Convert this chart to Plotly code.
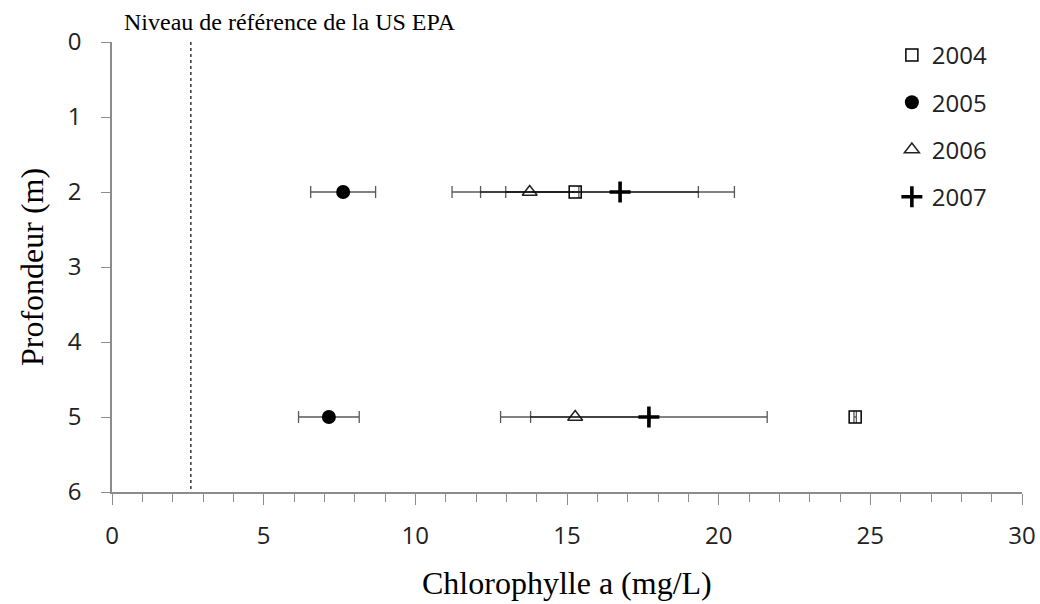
import plotly.graph_objects as go

# Depths (m) and chlorophyll-a means / standard deviations per year
depths = [2, 5]
years = ["2004", "2005", "2006", "2007"]
chl_2004 = [15.27, 24.50]
err_2004 = [4.06, 0.04]
chl_2005 = [7.62, 7.15]
err_2005 = [1.07, 1.0]
chl_2006 = [13.77, 15.27]
err_2006 = [1.62, 2.46]
chl_2007 = [16.75, 17.70]
err_2007 = [3.77, 3.90]

epa_level = 2.6
x_ticks = [0, 5, 10, 15, 20, 25, 30]
y_ticks = [0, 1, 2, 3, 4, 5, 6]

series = [
    ("2004", chl_2004, err_2004, dict(symbol="square-open", size=12, color="black", line=dict(width=1.5, color="black"))),
    ("2005", chl_2005, err_2005, dict(symbol="circle", size=14, color="black")),
    ("2006", chl_2006, err_2006, dict(symbol="triangle-up-open", size=13, color="#222", line=dict(width=1.5, color="#222"))),
    ("2007", chl_2007, err_2007, dict(symbol="cross-thin", size=15, color="black", line=dict(width=3.6, color="black"))),
]

fig = go.Figure()
for name, vals, errs, mk in series:
    fig.add_trace(go.Scatter(
        x=vals, y=depths, mode="markers", name=name, legendgroup=name,
        marker=mk,
        error_x=dict(type="data", array=errs, visible=True,
                     color="rgba(0,0,0,0.65)", thickness=1.3, width=6),
    ))

# US EPA reference level
fig.add_shape(type="line", xref="x", yref="y", x0=epa_level, x1=epa_level,
              y0=0, y1=6, line=dict(color="black", width=1.2, dash="dot"))
fig.add_annotation(text="Niveau de référence de la US EPA", xref="paper", yref="paper",
                   x=0.011, y=1.0, xanchor="left", yanchor="middle", yshift=20,
                   showarrow=False, font=dict(family="Liberation Serif", size=24, color="black"))

sans = "Open Sans"
fig.update_xaxes(range=[0, 30], tickvals=x_ticks, showgrid=False, zeroline=False,
                 showline=True, linecolor="#8c8c8c", linewidth=1.5,
                 ticks="outside", ticklen=11, tickcolor="#8c8c8c", tickwidth=1,
                 minor=dict(dtick=1, ticks="outside", ticklen=8, tickcolor="#8c8c8c", tickwidth=1),
                 ticklabelstandoff=10,
                 tickfont=dict(family=sans, size=24, color="#222"))
fig.update_yaxes(range=[6, 0], tickvals=y_ticks, showgrid=False, zeroline=False,
                 showline=True, linecolor="#8c8c8c", linewidth=1.5,
                 ticks="outside", ticklen=9, tickcolor="#8c8c8c", tickwidth=1,
                 ticklabelstandoff=15,
                 tickfont=dict(family=sans, size=24, color="#222"))

fig.add_annotation(text="Chlorophylle a (mg/L)", xref="paper", yref="paper", x=0.5, y=0,
                   yshift=-91, yanchor="middle", showarrow=False,
                   font=dict(family="Liberation Serif", size=32, color="black"))
fig.add_annotation(text="Profondeur (m)", xref="paper", yref="paper", x=0, y=0.5,
                   xshift=-80, xanchor="center", textangle=-90, showarrow=False,
                   font=dict(family="Liberation Serif", size=32, color="black"))

fig.update_layout(
    width=1040, height=604,
    margin=dict(l=112, r=18, t=42, b=112, autoexpand=False),
    paper_bgcolor="white", plot_bgcolor="white",
    showlegend=True,
    legend=dict(x=0.857, y=1.02, xanchor="left", yanchor="top", traceorder="grouped",
                tracegroupgap=13, font=dict(family=sans, size=24, color="#222"),
                bgcolor="rgba(0,0,0,0)", itemwidth=30),
)

fig.write_html("out.html")
